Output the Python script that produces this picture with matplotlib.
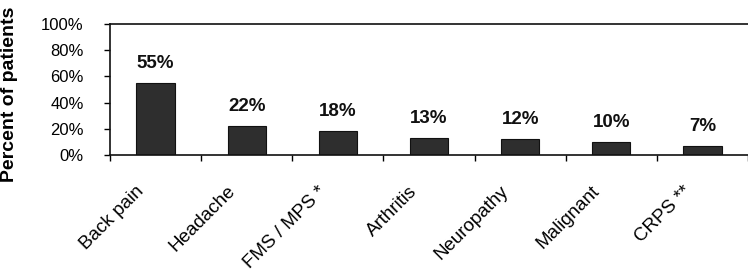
import numpy as np
import matplotlib.pyplot as plt
import matplotlib.transforms as mtransforms
from matplotlib.ticker import PercentFormatter

# data
categories = ["Back pain", "Headache", "FMS / MPS *", "Arthritis",
              "Neuropathy", "Malignant", "CRPS **"]
percent = [55, 22, 18, 13, 12, 10, 7]

plt.rcParams['font.family'] = ['Liberation Sans', 'DejaVu Sans']

fig = plt.figure(figsize=(7.48, 2.72), dpi=100)
ax = fig.add_axes([0.147, 0.430, 0.853, 0.482])

x = np.arange(len(categories))
bars = ax.bar(x, percent, width=0.42, color="#2e2e2e", edgecolor="#111111", linewidth=0.8)

for xi, v in zip(x, percent):
    ax.annotate(f"{v}%", (xi, v), xytext=(0, 8), textcoords="offset points",
                ha="center", va="bottom", fontsize=13.5, fontweight="bold", color="#111111")

ax.set_ylim(0, 100)
ax.set_xlim(-0.5, 6.43)
ax.set_yticks([0, 20, 40, 60, 80, 100])
ax.yaxis.set_major_formatter(PercentFormatter(decimals=0))
ax.tick_params(axis="y", direction="out", length=4, width=1, labelsize=12, pad=15)

# labels at bar centres, small tick marks between categories
ax.set_xticks(x)
ax.set_xticks(np.arange(len(categories) + 1) - 0.5, minor=True)
ax.tick_params(axis="x", which="major", length=0, pad=20)
ax.tick_params(axis="x", which="minor", direction="out", length=4, width=1)
ax.set_xticklabels(categories, rotation=45, ha="right", fontsize=13.5)
shift = mtransforms.ScaledTranslation(-8 / 100, 0, fig.dpi_scale_trans)
for lbl in ax.get_xticklabels():
    lbl.set_transform(lbl.get_transform() + shift)

ax.set_ylabel("Percent of patients", fontsize=14, fontweight="bold")
ax.yaxis.set_label_coords(-0.144, 0.46)

for side in ["left", "bottom", "top"]:
    ax.spines[side].set_linewidth(1.2)
    ax.spines[side].set_color("#111111")
ax.spines["right"].set_visible(False)

fig.savefig("out.png", dpi=100, facecolor="white")
